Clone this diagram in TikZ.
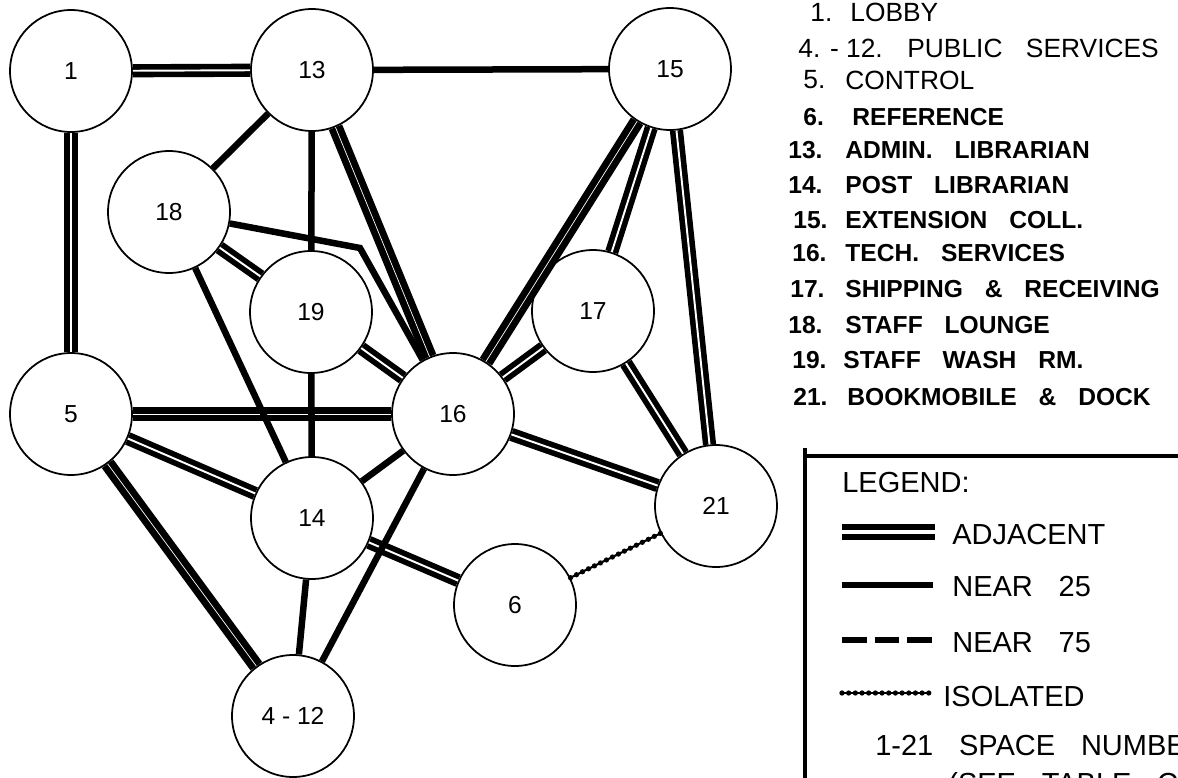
\documentclass[tikz,border=0pt]{standalone}
\usepackage{fontspec}
\setmainfont{Liberation Sans}
\newfontfamily\listfont[WordSpace=3.9]{Liberation Sans}
\newfontfamily\legfont[WordSpace=3.2]{Liberation Sans}

\begin{document}
\begin{tikzpicture}[x=0.02cm, y=-0.02cm,
    space/.style={circle, draw, line width=1pt, fill=white, minimum size=2.44cm,
        inner sep=0pt, font=\fontsize{14}{15}\selectfont},
    adjacent/.style={double, line width=3.2pt, double distance=1.1pt},
    heavy/.style={double, line width=3.9pt, double distance=0.4pt},
    near/.style={line width=3.7pt},
    isolated/.style={line width=1.2pt,
        postaction={draw, line width=3pt, line cap=round, dash pattern=on 0pt off 3.8pt}},
    lightnum/.style={anchor=west, inner sep=0pt, font=\fontsize{15}{17}\selectfont},
    boldtxt/.style={anchor=west, inner sep=0pt, font=\listfont\bfseries\fontsize{14}{16}\selectfont},
    lighttxt/.style={anchor=west, inner sep=0pt, font=\listfont\fontsize{15}{17}\selectfont},
    legtxt/.style={anchor=west, inner sep=0pt, font=\legfont\fontsize{16.5}{18}\selectfont}]
    \useasboundingbox (0,0) rectangle (1178,778);
    \clip (0,0) rectangle (1178,778);

    % Spaces (numbers as in the list)
    \node[space] (n1) at (71,71) {1};
    \node[space] (n13) at (312,70) {13};
    \node[space] (n15) at (670,69) {15};
    \node[space] (n18) at (169,212) {18};
    \node[space] (n19) at (311,312) {19};
    \node[space] (n17) at (593,311) {17};
    \node[space] (n5) at (71,414) {5};
    \node[space] (n16) at (453,414) {16};
    \node[space] (n14) at (312,518) {14};
    \node[space] (n21) at (716,506) {21};
    \node[space] (n6) at (515,605) {6};
    \node[space] (n412) at (293,716) {4 - 12};
    \coordinate (b18) at (360,248);

    % Adjacent
    \draw[adjacent] (n1) -- (n13);
    \draw[adjacent] (n1) -- (n5);
    \draw[adjacent] (n18) -- (n19);
    \draw[adjacent] (n19) -- (n16);
    \draw[adjacent] (n15) -- (n17);
    \draw[adjacent] (n15) -- (n21);
    \draw[adjacent] (n17) -- (n16);
    \draw[adjacent] (n17) -- (n21);
    \draw[adjacent] (n16) -- (n21);
    \draw[adjacent] (n5) -- (n14);
    \draw[adjacent] (n14) -- (n6);
    \draw[heavy] (n13) -- (n16);
    \draw[heavy] (n15) -- (n16);
    \draw[heavy] (n5) -- (n16);
    \draw[heavy] (n5) -- (n412);

    % Near 25
    \draw[near] (n13) -- (n15);
    \draw[near] (n13) -- (n18);
    \draw[near] (n13) -- (n19);
    \draw[near] (n18) -- (b18) -- (n16);
    \draw[near] (n18) -- (n14);
    \draw[near] (n19) -- (n14);
    \draw[near] (n14) -- (n16);
    \draw[near] (n14) -- (n412);
    \draw[near] (n16) -- (n412);

    % Isolated
    \draw[isolated] (n6) -- (n21);

    % List of spaces
    \node[lightnum] (k1) at (810,12) {1.};
    \node[lighttxt] (t1) at (850,12) {LOBBY};
    \node[lightnum] (k4) at (798,48) {4. - 12.};
    \node[lighttxt] (t4) at (907,48) {PUBLIC SERVICES};
    \node[lightnum] (k5) at (803,80) {5.};
    \node[lighttxt] (t5) at (845,80) {CONTROL};
    \foreach \k/\t/\xk/\xt/\y in {6./REFERENCE/803/852/117,
        13./ADMIN. LIBRARIAN/788/845/150,
        14./POST LIBRARIAN/788/845/185,
        15./EXTENSION COLL./793/845/220,
        16./TECH. SERVICES/792/845/253,
        17./SHIPPING \& RECEIVING/790/845/289,
        18./STAFF LOUNGE/788/845/325,
        19./STAFF WASH RM./792/843/360,
        21./BOOKMOBILE \& DOCK/793/847/397}{
        \node[boldtxt] (k\xk-\y) at (\xk,\y) {\k};
        \node[boldtxt] (t\y) at (\xt,\y) {\t};
    }

    % Legend box
    \draw[line width=2.3pt] (805,448) -- (805,778);
    \draw[line width=2.8pt] (805,456) -- (1178,456);
    \node[legtxt] (leg) at (842,483) {LEGEND:};
    \coordinate (s1) at (842,532); \coordinate (e1) at (935,532);
    \coordinate (s2) at (842,585); \coordinate (e2) at (933,585);
    \coordinate (s3) at (842,640); \coordinate (e3) at (935,640);
    \coordinate (s4) at (842,693); \coordinate (e4) at (930,693);
    \draw[double, line width=3.4pt, double distance=2.2pt] (s1) -- (e1);
    \draw[near] (s2) -- (e2);
    \draw[near, dash pattern=on 14pt off 4.5pt] (s3) -- (e3);
    \draw[isolated] (s4) -- (e4);
    \node[legtxt] (l1) at (952,535) {ADJACENT};
    \node[legtxt] (l2) at (952,587) {NEAR 25};
    \node[legtxt] (l3) at (952,643) {NEAR 75};
    \node[legtxt] (l4) at (943,697) {ISOLATED};
    \node[legtxt] (l5) at (875,746) {1-21 SPACE NUMBER};
    \node[legtxt] (l6) at (948,786) {(SEE TABLE C};
\end{tikzpicture}
\end{document}
